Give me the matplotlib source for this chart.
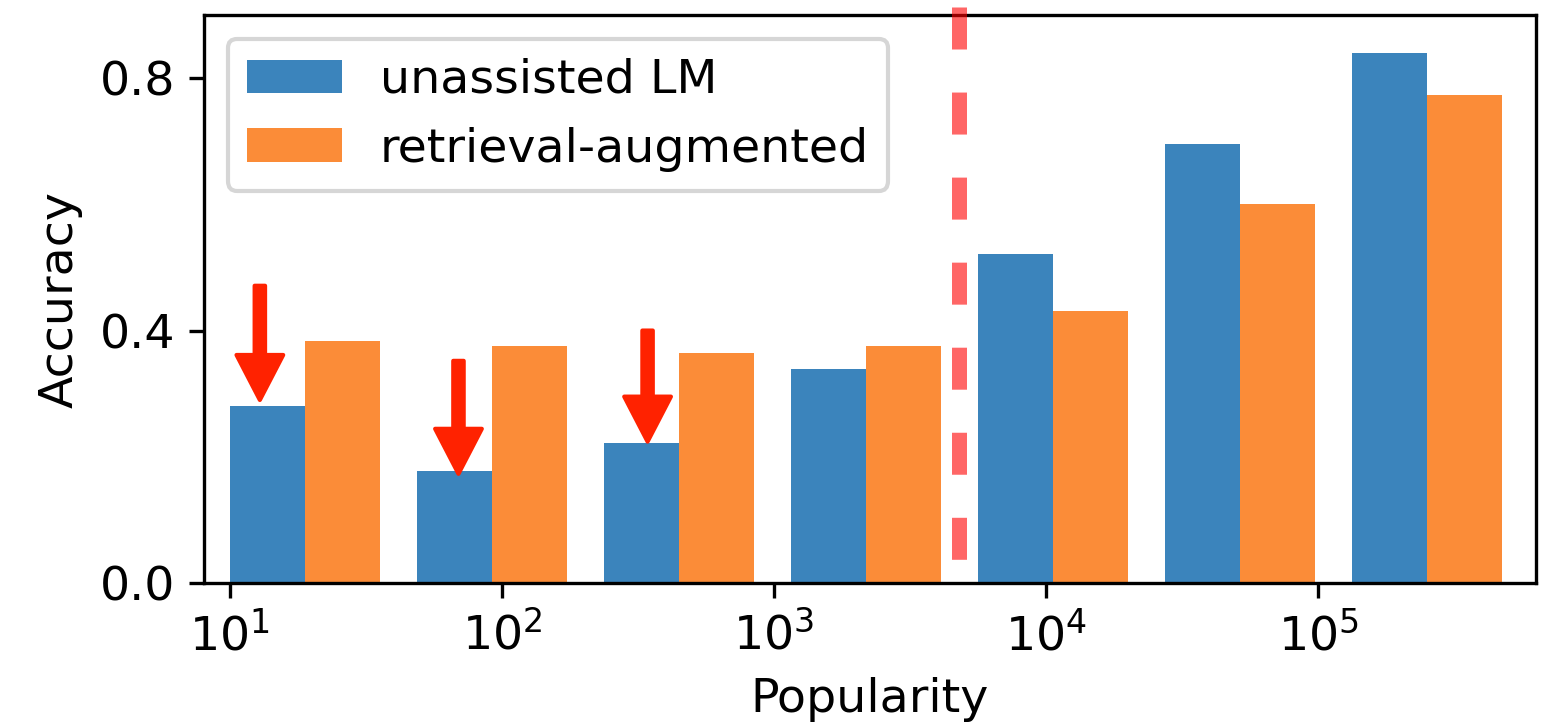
import matplotlib
matplotlib.use("Agg")
import matplotlib.pyplot as plt
from matplotlib.patches import FancyArrowPatch
from matplotlib.ticker import FixedLocator, FuncFormatter

# ---- data ----
bin_left_log10 = [1.0, 1.6875, 2.375, 3.0625, 3.75, 4.4375, 5.125]   # log10(popularity) of bin starts
unassisted = [0.280, 0.178, 0.222, 0.339, 0.522, 0.696, 0.840]
retrieval = [0.383, 0.376, 0.365, 0.376, 0.431, 0.601, 0.773]
series_labels = ["unassisted LM", "retrieval-augmented"]
xtick_exponents = [1, 2, 3, 4, 5]
yticks = [0.0, 0.4, 0.8]
threshold_log10 = 3.68
# arrows: (x log10, tail y, tip y)
arrow_x = [1.11, 1.84, 2.535]
arrow_tail = [0.471, 0.352, 0.400]
arrow_tip = [0.290, 0.173, 0.224]

FS = 11.4
plt.rcParams["font.family"] = "DejaVu Sans"
plt.rcParams["font.size"] = FS

fig = plt.figure(figsize=(5.1967, 2.42), dpi=300)
ax = fig.add_axes([0.1309, 0.1970, 0.9852 - 0.1309, 0.9793 - 0.1970])

w = 0.275
blue = "#3b84bc"
orange = "#fb8c38"
ax.bar([b for b in bin_left_log10], unassisted, width=w, align="edge",
       color=blue, label=series_labels[0])
ax.bar([b + w for b in bin_left_log10], retrieval, width=w, align="edge",
       color=orange, label=series_labels[1])

ax.plot([threshold_log10, threshold_log10], [0.913, 0.0], color="red", alpha=0.6,
        lw=3.6, dashes=(2.8, 2.87), clip_on=False, solid_capstyle="butt",
        dash_capstyle="butt", zorder=5)

for x, yt, yh in zip(arrow_x, arrow_tail, arrow_tip):
    arr = FancyArrowPatch((x, yt), (x, yh),
                          arrowstyle="simple,head_length=10.8,head_width=11.2,tail_width=2.5",
                          mutation_scale=1, color="#ff2200", shrinkA=0, shrinkB=0,
                          zorder=6)
    ax.add_patch(arr)

ax.set_xlim(0.905, 5.80)
ax.set_ylim(0, 0.9)
ax.xaxis.set_major_locator(FixedLocator(xtick_exponents))
ax.xaxis.set_major_formatter(FuncFormatter(lambda v, p: r"$10^{%d}$" % round(v)))
ax.set_yticks(yticks)
ax.set_yticklabels(["%.1f" % t for t in yticks])

ax.set_xlabel("Popularity")
ax.set_ylabel("Accuracy")

ax.legend(loc="upper left")

fig.savefig("out.png", dpi=300)
